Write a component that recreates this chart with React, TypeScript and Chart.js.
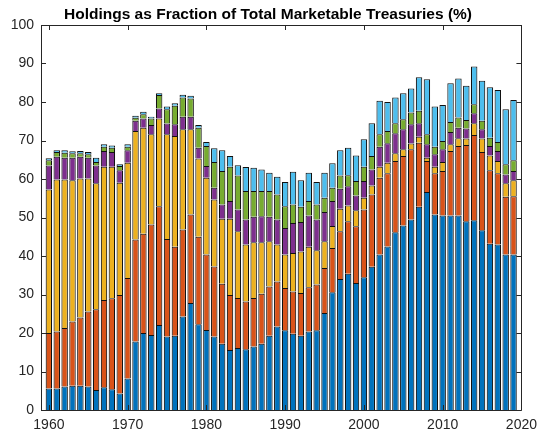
import React, { useEffect, useRef } from "react";
import { Chart, registerables } from "chart.js";

Chart.register(...registerables);

const years: number[] = [];
for (let y = 1960; y <= 2019; y++) years.push(y);

const TITLE = "Holdings as Fraction of Total Marketable Treasuries (%)";
const xTicks = [1960, 1970, 1980, 1990, 2000, 2010, 2020];
const yTicks = [0, 10, 20, 30, 40, 50, 60, 70, 80, 90, 100];

const seriesBlue = [
  5.6, 5.6, 6.1, 6.3, 6.3, 6.1, 5.2, 5.9, 5.4, 4.3,
  8.2, 17.8, 20.0, 19.5, 22.1, 19.1, 19.3, 24.3, 27.8, 22.3,
  20.8, 19.1, 17.2, 15.6, 16.1, 15.8, 16.5, 17.2, 19.3, 21.7,
  20.7, 19.8, 19.3, 20.4, 20.7, 25.2, 30.6, 34.0, 35.4, 33.0,
  34.5, 37.2, 40.4, 42.5, 46.2, 47.9, 49.5, 52.8, 56.6, 50.8,
  50.5, 50.5, 50.5, 49.0, 49.3, 46.7, 43.2, 43.0, 40.4, 40.4,
];
const seriesOrange = [
  14.4, 14.8, 15.2, 16.7, 17.7, 19.5, 21.0, 22.7, 23.6, 25.6,
  26.1, 26.5, 25.8, 28.7, 30.8, 25.3, 23.1, 22.6, 23.0, 22.7,
  19.6, 18.2, 15.6, 14.3, 13.0, 12.4, 12.6, 13.0, 12.8, 11.7,
  11.0, 11.0, 11.1, 11.5, 11.9, 11.7, 11.5, 12.4, 13.6, 14.7,
  17.6, 18.8, 19.9, 19.0, 18.5, 18.1, 18.2, 16.6, 8.1, 10.7,
  11.6, 16.8, 18.1, 19.8, 22.1, 20.3, 19.1, 18.5, 15.0, 15.1,
];
const seriesYellow = [
  37.3, 39.5, 38.6, 36.7, 36.1, 34.5, 32.7, 34.6, 34.2, 29.1,
  29.9, 28.2, 27.5, 23.4, 22.8, 27.2, 28.8, 26.0, 22.1, 20.3,
  19.9, 17.4, 16.9, 19.8, 17.3, 14.8, 14.5, 13.4, 11.7, 9.6,
  8.7, 10.0, 10.8, 10.5, 8.9, 6.9, 5.7, 5.9, 4.1, 4.2,
  3.0, 2.3, 2.9, 2.7, 2.0, 1.7, 1.5, 1.6, 0.8, 1.7,
  2.3, 1.7, 2.0, 1.7, 3.1, 3.5, 3.8, 3.2, 3.5, 4.2,
];
const seriesPurple = [
  6.2, 5.9, 5.6, 5.8, 5.7, 5.4, 4.6, 4.1, 3.8, 3.3,
  3.3, 2.6, 2.4, 2.4, 2.6, 2.8, 3.0, 3.3, 3.3, 2.8,
  3.1, 3.0, 3.7, 4.6, 5.7, 6.5, 6.6, 6.7, 6.4, 6.5,
  6.9, 7.8, 7.6, 8.1, 8.0, 7.6, 6.5, 5.2, 5.0, 3.8,
  4.4, 4.2, 5.2, 5.1, 5.2, 5.2, 5.0, 3.5, 3.5, 3.2,
  3.3, 3.2, 2.7, 2.6, 2.6, 2.4, 2.5, 2.6, 2.3, 2.4,
];
const seriesGreen = [
  1.4, 1.2, 1.3, 1.2, 0.9, 0.9, 0.9, 1.1, 1.1, 1.1,
  0.9, 0.8, 1.1, 1.7, 3.5, 3.7, 4.8, 5.0, 4.7, 5.2,
  5.2, 6.7, 8.7, 8.9, 8.8, 7.4, 6.7, 6.6, 6.7, 6.5,
  5.6, 4.8, 4.0, 3.8, 3.9, 3.7, 3.4, 3.4, 2.9, 3.8,
  3.7, 3.5, 3.2, 3.2, 2.6, 2.6, 3.1, 3.2, 2.6, 2.0,
  2.2, 2.6, 2.7, 2.2, 2.3, 2.2, 2.1, 2.3, 2.6, 2.8,
];
const seriesLightBlue = [
  0.5, 0.5, 0.7, 0.5, 0.6, 0.6, 1.1, 0.6, 0.6, 0.4,
  0.6, 0.5, 0.7, 0.5, 0.5, 0.7, 0.7, 0.7, 0.7, 0.7,
  1.0, 3.6, 5.4, 2.8, 2.7, 6.2, 6.0, 5.6, 4.7, 4.6,
  6.3, 8.5, 6.9, 7.3, 5.8, 6.5, 6.4, 6.6, 7.1, 6.6,
  7.1, 8.5, 8.7, 7.5, 6.7, 6.8, 6.2, 8.7, 14.3, 10.4,
  9.3, 10.1, 10.1, 8.9, 9.8, 10.4, 13.1, 13.5, 14.3, 15.6,
];

const seriesList = [
  { name: "s1", values: seriesBlue, color: "#0072BD" },
  { name: "s2", values: seriesOrange, color: "#D95319" },
  { name: "s3", values: seriesYellow, color: "#EDB120" },
  { name: "s4", values: seriesPurple, color: "#7E2F8E" },
  { name: "s5", values: seriesGreen, color: "#77AC30" },
  { name: "s6", values: seriesLightBlue, color: "#4DBEEE" },
];

const AXIS_COLOR = "#262626";
const FONT = "'Liberation Sans', Arial, Helvetica, sans-serif";

const boxPlugin = {
  id: "matlabBox",
  afterDatasetsDraw(chart: any) {
    const { ctx, chartArea, scales } = chart;
    const { left, right, top, bottom } = chartArea;
    const tl = 5;
    ctx.save();
    ctx.strokeStyle = AXIS_COLOR;
    ctx.lineWidth = 1;
    ctx.beginPath();
    for (const v of xTicks) {
      const px = Math.round(scales.x.getPixelForValue(v)) + 0.5;
      ctx.moveTo(px, bottom);
      ctx.lineTo(px, bottom - tl);
      ctx.moveTo(px, top);
      ctx.lineTo(px, top + tl);
    }
    for (const v of yTicks) {
      const py = Math.round(scales.y.getPixelForValue(v)) + 0.5;
      ctx.moveTo(left, py);
      ctx.lineTo(left + tl, py);
      ctx.moveTo(right, py);
      ctx.lineTo(right - tl, py);
    }
    ctx.stroke();
    ctx.beginPath();
    ctx.rect(Math.round(left) + 0.5, Math.round(top) + 0.5, Math.round(right - left), Math.round(bottom - top));
    ctx.stroke();
    ctx.restore();
  },
};

const titlePlugin = {
  id: "matlabTitle",
  afterDraw(chart: any) {
    const { ctx, width } = chart;
    ctx.save();
    ctx.fillStyle = "#000000";
    ctx.font = `bold 15.5px ${FONT}`;
    ctx.textAlign = "center";
    ctx.textBaseline = "alphabetic";
    ctx.fillText(TITLE, width / 2 - 4, 19);
    ctx.restore();
  },
};

const whiteBg = {
  id: "whiteBg",
  beforeDraw(chart: any) {
    const { ctx, width, height } = chart;
    ctx.save();
    ctx.fillStyle = "#ffffff";
    ctx.fillRect(0, 0, width, height);
    ctx.restore();
  },
};

export default function App() {
  const ref = useRef<HTMLCanvasElement | null>(null);

  useEffect(() => {
    if (!ref.current) return;
    const chart = new Chart(ref.current, {
      type: "bar",
      data: {
        datasets: seriesList.map((s) => ({
          label: s.name,
          data: years.map((yr, i) => ({ x: yr, y: s.values[i] })),
          backgroundColor: s.color,
          borderColor: "#111111",
          borderWidth: { left: 1.1, right: 1.1, top: 1, bottom: 0 },
          borderSkipped: false,
          inflateAmount: 0,
          barPercentage: 0.82,
          categoryPercentage: 1,
        })),
      },
      options: {
        responsive: false,
        animation: false,
        layout: { padding: { left: 0, right: 19, top: 25, bottom: 0 } },
        plugins: {
          legend: { display: false },
          tooltip: { enabled: false },
          title: { display: false },
        },
        scales: {
          x: {
            type: "linear",
            stacked: true,
            min: 1959,
            max: 2020,
            offset: false,
            grid: { display: false, drawTicks: false },
            border: { display: false },
            afterBuildTicks: (scale: any) => {
              scale.ticks = xTicks.map((v) => ({ value: v }));
            },
            ticks: {
              color: AXIS_COLOR,
              font: { family: FONT, size: 14 },
              padding: 7,
              maxRotation: 0,
              autoSkip: false,
              callback: (v: any) => String(v),
            },
            afterFit: (scale: any) => {
              scale.height = 25;
            },
          },
          y: {
            stacked: true,
            min: 0,
            max: 100,
            grid: { display: false, drawTicks: false },
            border: { display: false },
            afterBuildTicks: (scale: any) => {
              scale.ticks = yTicks.map((v) => ({ value: v }));
            },
            ticks: {
              color: AXIS_COLOR,
              font: { family: FONT, size: 14 },
              padding: 7,
              autoSkip: false,
            },
            afterFit: (scale: any) => {
              scale.width = 41;
            },
          },
        },
      },
      plugins: [whiteBg, boxPlugin, titlePlugin],
    } as any);
    return () => chart.destroy();
  }, []);

  return (
    <div style={{ position: "absolute", left: 0, top: 0, width: 544, height: 435 }}>
      <canvas ref={ref} width={544} height={435} style={{ display: "block" }} />
    </div>
  );
}
